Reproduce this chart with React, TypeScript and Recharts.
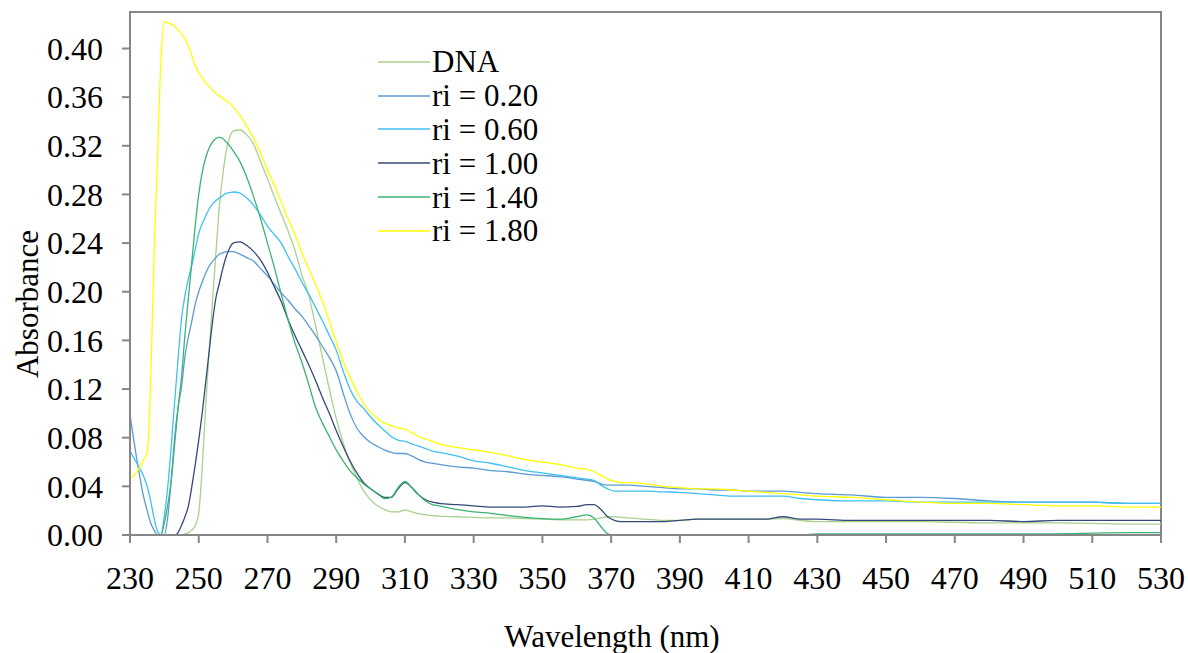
import { LineChart, Line, XAxis, YAxis, Legend, ReferenceArea } from 'recharts';

const wavelengths = [
  230, 232, 234, 235, 236, 237, 238, 239, 240, 241, 242, 243, 244, 245, 246, 247, 248, 249,
  250, 251, 252, 253, 254, 255, 256, 257, 258, 259, 260, 262, 264, 266, 268, 270, 272, 274,
  276, 278, 280, 282, 284, 286, 288, 290, 292, 294, 296, 298, 300, 302, 304, 306, 308, 310,
  312, 314, 316, 318, 320, 325, 330, 335, 340, 345, 350, 355, 360, 363, 365, 367, 369, 371,
  373, 375, 380, 385, 390, 395, 400, 405, 410, 415, 420, 425, 430, 440, 450, 460, 470, 480,
  490, 500, 510, 520, 530,
];

const dna = [
  0, 0, 0, 0, 0, 0, 0, 0, 0, 0, 0, 0, 0, 0, 0.001, 0.002, 0.004, 0.008,
  0.018, 0.055, 0.105, 0.15, 0.192, 0.232, 0.27, 0.296, 0.316, 0.327, 0.332, 0.333, 0.329, 0.321, 0.307, 0.293, 0.278, 0.264,
  0.25, 0.234, 0.214, 0.197, 0.172, 0.146, 0.12, 0.096, 0.076, 0.06, 0.047, 0.036, 0.029, 0.024, 0.021, 0.019, 0.019, 0.0205,
  0.019, 0.0175, 0.0165, 0.016, 0.0155, 0.015, 0.0145, 0.014, 0.014, 0.0135, 0.013, 0.0125, 0.0125, 0.0125, 0.013, 0.014, 0.015, 0.015,
  0.0145, 0.014, 0.013, 0.012, 0.012, 0.013, 0.013, 0.013, 0.013, 0.013, 0.0135, 0.012, 0.011, 0.011, 0.011, 0.011, 0.0105, 0.01,
  0.01, 0.01, 0.0095, 0.009, 0.009,
];

const ri020 = [
  0.099, 0.062, 0.031, 0.02, 0.01, 0.004, 0, 0, 0, 0.015, 0.045, 0.08, 0.105, 0.122, 0.147, 0.163, 0.176, 0.19,
  0.2, 0.208, 0.215, 0.221, 0.225, 0.228, 0.231, 0.232, 0.233, 0.233, 0.233, 0.231, 0.228, 0.225, 0.219, 0.213, 0.206, 0.199,
  0.193, 0.186, 0.18, 0.172, 0.164, 0.155, 0.146, 0.135, 0.117, 0.1, 0.088, 0.081, 0.076, 0.073, 0.07, 0.068, 0.067, 0.067,
  0.065, 0.062, 0.06, 0.059, 0.058, 0.056, 0.055, 0.053, 0.052, 0.05, 0.049, 0.048, 0.046, 0.045, 0.044, 0.042, 0.041, 0.041,
  0.041, 0.041, 0.04, 0.039, 0.038, 0.038, 0.037, 0.037, 0.036, 0.036, 0.036, 0.035, 0.034, 0.033, 0.031, 0.031, 0.03, 0.028,
  0.027, 0.027, 0.027, 0.026, 0.026,
];

const ri060 = [
  0.069, 0.059, 0.048, 0.04, 0.028, 0.014, 0.003, 0, 0.016, 0.04, 0.073, 0.11, 0.145, 0.178, 0.197, 0.211, 0.222, 0.235,
  0.248, 0.256, 0.262, 0.268, 0.272, 0.275, 0.277, 0.279, 0.281, 0.2815, 0.282, 0.281, 0.277, 0.271, 0.263, 0.254, 0.247, 0.24,
  0.229, 0.219, 0.208, 0.198, 0.187, 0.176, 0.164, 0.152, 0.135, 0.12, 0.11, 0.104, 0.097, 0.091, 0.086, 0.081, 0.078, 0.077,
  0.075, 0.073, 0.071, 0.069, 0.068, 0.065, 0.061, 0.059, 0.056, 0.053, 0.051, 0.049, 0.047, 0.046, 0.045, 0.041, 0.038, 0.036,
  0.036, 0.036, 0.036, 0.0355, 0.035, 0.034, 0.033, 0.032, 0.032, 0.032, 0.032, 0.03, 0.029, 0.028, 0.028, 0.027, 0.027, 0.027,
  0.027, 0.027, 0.027, 0.026, 0.026,
];

const ri100 = [
  0, 0, 0, 0, 0, 0, 0, 0, 0, 0, 0, 0, 0.002, 0.008, 0.015, 0.024, 0.04, 0.058,
  0.078, 0.1, 0.125, 0.15, 0.175, 0.195, 0.207, 0.219, 0.229, 0.236, 0.24, 0.241, 0.238, 0.233, 0.226, 0.216, 0.204, 0.192,
  0.177, 0.164, 0.152, 0.14, 0.127, 0.113, 0.1, 0.086, 0.073, 0.061, 0.051, 0.043, 0.038, 0.034, 0.031, 0.031, 0.038, 0.043,
  0.039, 0.033, 0.029, 0.027, 0.026, 0.025, 0.024, 0.023, 0.023, 0.023, 0.024, 0.023, 0.0235, 0.025, 0.025, 0.021, 0.015, 0.012,
  0.011, 0.011, 0.011, 0.011, 0.012, 0.013, 0.013, 0.013, 0.013, 0.013, 0.015, 0.013, 0.013, 0.012, 0.012, 0.012, 0.012, 0.012,
  0.011, 0.012, 0.012, 0.012, 0.012,
];

const ri140 = [
  0, 0, 0, 0, 0, 0, 0, 0, 0.01, 0.025, 0.045, 0.075, 0.105, 0.13, 0.165, 0.195, 0.225, 0.255,
  0.28, 0.298, 0.31, 0.318, 0.323, 0.326, 0.327, 0.326, 0.323, 0.32, 0.316, 0.307, 0.294, 0.278, 0.26, 0.24, 0.22, 0.198,
  0.177, 0.158, 0.142, 0.124, 0.105, 0.092, 0.081, 0.07, 0.061, 0.053, 0.047, 0.042, 0.038, 0.034, 0.03, 0.031, 0.039, 0.044,
  0.039, 0.033, 0.028, 0.025, 0.024, 0.021, 0.019, 0.0178, 0.016, 0.0145, 0.0135, 0.013, 0.015, 0.0165, 0.014, 0.007, 0.001, 0,
  0, 0, 0, 0, 0, 0, 0, 0, 0, 0, 0, 0, 0.001, 0.001, 0.001, 0.001, 0.001, 0.001,
  0.001, 0.001, 0.0015, 0.002, 0.002,
];

const ri180 = [
  0.046, 0.052, 0.062, 0.068, 0.125, 0.23, 0.31, 0.39, 0.422, 0.421, 0.42, 0.418, 0.415, 0.412, 0.408, 0.402, 0.394, 0.386,
  0.38, 0.376, 0.372, 0.369, 0.366, 0.363, 0.361, 0.359, 0.357, 0.355, 0.352, 0.345, 0.336, 0.326, 0.314, 0.3, 0.288, 0.274,
  0.26, 0.247, 0.232, 0.219, 0.206, 0.192, 0.176, 0.159, 0.143, 0.13, 0.118, 0.108, 0.101, 0.096, 0.092, 0.09, 0.088, 0.087,
  0.084, 0.081, 0.079, 0.077, 0.075, 0.072, 0.07, 0.068, 0.065, 0.062, 0.06, 0.058, 0.055, 0.054, 0.052, 0.049, 0.046, 0.044,
  0.043, 0.043, 0.042, 0.04, 0.039, 0.038, 0.038, 0.037, 0.036, 0.035, 0.034, 0.033, 0.032, 0.031, 0.029, 0.027, 0.026, 0.026,
  0.025, 0.024, 0.024, 0.023, 0.023,
];

const seriesKeys = ['dna', 'ri020', 'ri060', 'ri100', 'ri140', 'ri180'];
const seriesNames = ['DNA', 'ri = 0.20', 'ri = 0.60', 'ri = 1.00', 'ri = 1.40', 'ri = 1.80'];
const seriesColors = ['#a9d18e', '#5b9bd5', '#3fc0f0', '#34497a', '#3bb373', '#ffff00'];

const xTicks = [230, 250, 270, 290, 310, 330, 350, 370, 390, 410, 430, 450, 470, 490, 510, 530];
const yTicks = [0, 0.04, 0.08, 0.12, 0.16, 0.2, 0.24, 0.28, 0.32, 0.36, 0.4];

const seriesValues = [dna, ri020, ri060, ri100, ri140, ri180];
const data = wavelengths.map((wl, i) => {
  const row: Record<string, number> = { wl };
  seriesKeys.forEach((k, j) => {
    row[k] = seriesValues[j][i];
  });
  return row;
});

const font = '"Liberation Serif", "Times New Roman", serif';
const axisColor = '#868686';

function LegendRows({ payload }: any) {
  return (
    <div>
      {(payload || []).map((p: any) => (
        <div key={p.value} style={{ display: 'flex', alignItems: 'center', height: 33.8 }}>
          <svg width={54} height={4} style={{ display: 'block' }}>
            <line x1={0} y1={2} x2={52} y2={2} stroke={p.color} strokeWidth={1.3} />
          </svg>
          <span style={{ fontFamily: font, fontSize: 31, color: '#000', lineHeight: '31px' }}>{p.value}</span>
        </div>
      ))}
    </div>
  );
}

export default function App() {
  return (
    <div style={{ position: 'absolute', left: 0, top: 0, width: 1188, height: 653, background: '#fff' }}>
      <LineChart width={1188} height={653} data={data} margin={{ top: 12, right: 27, left: 0, bottom: 0 }}>
        <XAxis
          dataKey="wl"
          type="number"
          domain={[230, 530]}
          ticks={xTicks}
          height={118}
          tickSize={8}
          tickMargin={23}
          axisLine={{ stroke: axisColor, strokeWidth: 2 }}
          tickLine={{ stroke: axisColor, strokeWidth: 2 }}
          tick={{ fontFamily: font, fontSize: 32, fill: '#000' }}
        />
        <YAxis
          type="number"
          domain={[0, 0.43]}
          ticks={yTicks}
          width={130}
          tickSize={8}
          tickMargin={19}
          tickFormatter={(v: number) => v.toFixed(2)}
          axisLine={{ stroke: axisColor, strokeWidth: 2 }}
          tickLine={{ stroke: axisColor, strokeWidth: 2 }}
          tick={{ fontFamily: font, fontSize: 32, fill: '#000' }}
        />
        <ReferenceArea x1={230} x2={530} y1={0} y2={0.43} fill="none" stroke={axisColor} strokeWidth={2} />
        <Legend
          layout="vertical"
          align="center"
          verticalAlign="middle"
          content={<LegendRows />}
          wrapperStyle={{ left: 378, top: 45, width: 240 }}
        />
        {seriesKeys.map((k, j) => (
          <Line
            key={k}
            dataKey={k}
            name={seriesNames[j]}
            type="monotone"
            stroke={seriesColors[j]}
            strokeWidth={1.3}
            dot={false}
            isAnimationActive={false}
          />
        ))}
      </LineChart>
      <div
        style={{
          position: 'absolute',
          left: 28,
          top: 304,
          transform: 'translate(-50%, -50%) rotate(-90deg)',
          fontFamily: font,
          fontSize: 31,
          whiteSpace: 'nowrap',
        }}
      >
        Absorbance
      </div>
      <div
        style={{
          position: 'absolute',
          left: 612,
          top: 637,
          transform: 'translate(-50%, -50%)',
          fontFamily: font,
          fontSize: 31,
          whiteSpace: 'nowrap',
        }}
      >
        Wavelength (nm)
      </div>
    </div>
  );
}
